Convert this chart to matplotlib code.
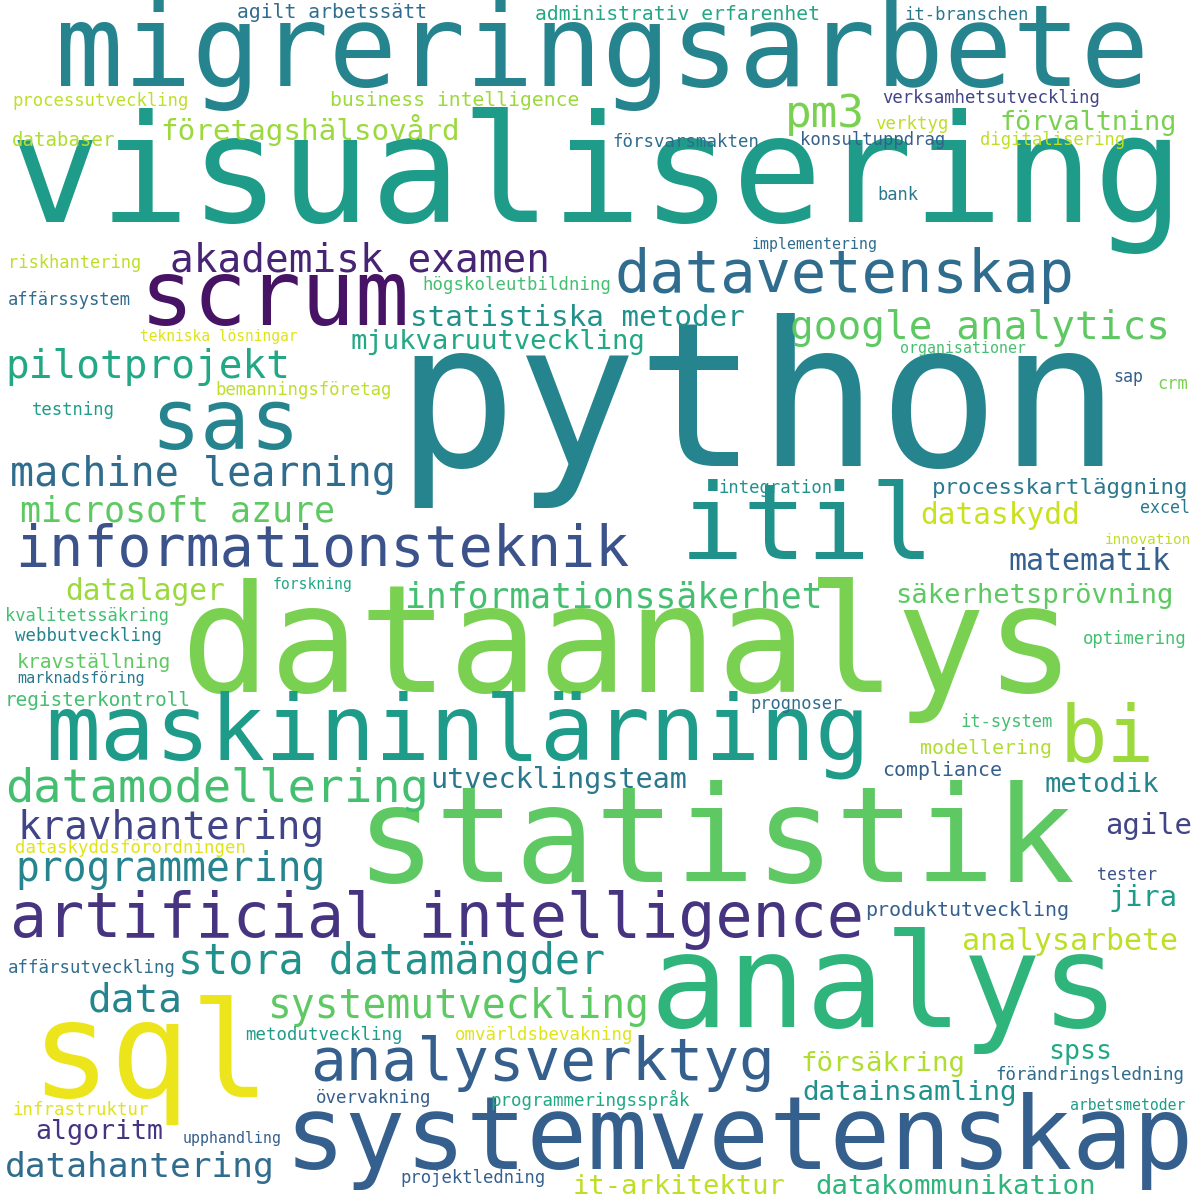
import matplotlib
matplotlib.use('Agg')
import matplotlib.pyplot as plt
from matplotlib import cm

# ord, vänsterkant x, mitt y, bredd (px), färg (viridis 0-1)
words = ["migreringsarbete", "visualisering", "python", "dataanalys", "statistik", "analys", "sql",
         "systemvetenskap", "maskininlärning", "itil", "scrum", "artificial intelligence",
         "informationsteknik", "datavetenskap", "sas", "bi", "analysverktyg", "datamodellering",
         "pilotprojekt", "machine learning", "microsoft azure", "akademisk examen", "google analytics",
         "statistiska metoder", "mjukvaruutveckling", "pm3", "företagshälsovård", "business intelligence",
         "administrativ erfarenhet", "agilt arbetssätt", "it-branschen", "processutveckling",
         "verksamhetsutveckling", "förvaltning", "databaser", "försvarsmakten", "verktyg",
         "konsultuppdrag", "digitalisering", "bank", "implementering", "riskhantering",
         "högskoleutbildning", "affärssystem", "tekniska lösningar", "organisationer",
         "bemanningsföretag", "testning", "sap", "crm", "processkartläggning", "integration",
         "dataskydd", "excel", "innovation", "matematik", "datalager", "forskning",
         "informationssäkerhet", "säkerhetsprövning", "kvalitetssäkring", "webbutveckling",
         "optimering", "kravställning", "marknadsföring", "registerkontroll", "prognoser",
         "it-system", "modellering", "compliance", "utvecklingsteam", "metodik", "kravhantering",
         "agile", "dataskyddsförordningen", "programmering", "tester", "jira", "produktutveckling",
         "stora datamängder", "analysarbete", "affärsutveckling", "data", "systemutveckling",
         "metodutveckling", "omvärldsbevakning", "försäkring", "spss", "datainsamling",
         "förändringsledning", "infrastruktur", "övervakning", "programmeringsspråk",
         "arbetsmetoder", "algoritm", "upphandling", "datahantering", "projektledning",
         "it-arkitektur", "datakommunikation"]
x_left = [55, 10, 395, 180, 355, 650, 30, 285, 45, 680, 140, 10, 15, 615, 150, 1060, 310, 5,
          5, 10, 20, 170, 790, 410, 350, 785, 160, 330, 535, 237, 905, 12, 882, 1000, 12, 612,
          875, 800, 980, 877, 752, 8, 422, 8, 140, 900, 215, 32, 1113, 1157, 932, 718, 920, 1140,
          1105, 1008, 65, 273, 405, 895, 5, 15, 1083, 17, 17, 5, 750, 960, 920, 882, 430, 1045,
          18, 1105, 15, 15, 1097, 1108, 865, 178, 962, 8, 88, 268, 245, 455, 800, 1048, 802, 995,
          12, 316, 490, 1070, 35, 183, 5, 400, 573, 815]
y_mid = [55, 180, 410, 650, 845, 990, 1060, 1140, 735, 530, 300, 920, 550, 275, 425, 740, 1063,
         790, 367, 475, 512, 260, 328, 318, 342, 115, 130, 100, 14, 12, 15, 101, 98, 123, 140,
         142, 124, 140, 140, 195, 244, 263, 285, 300, 337, 348, 390, 410, 377, 384, 488, 488,
         516, 508, 540, 562, 592, 585, 598, 596, 616, 636, 639, 662, 678, 700, 704, 722, 748,
         770, 780, 785, 828, 826, 848, 870, 875, 898, 910, 962, 942, 968, 1000, 1007, 1035, 1035,
         1064, 1052, 1093, 1075, 1110, 1098, 1100, 1105, 1132, 1138, 1168, 1178, 1187, 1187]
widths = [1095, 1175, 725, 895, 720, 470, 240, 910, 825, 255, 270, 855, 615, 460, 150, 95, 465,
          425, 285, 385, 315, 380, 380, 335, 295, 80, 300, 250, 285, 190, 125, 176, 218, 178,
          103, 146, 73, 145, 145, 41, 125, 134, 188, 124, 158, 125, 177, 83, 30, 31, 256, 114,
          160, 50, 87, 162, 160, 80, 417, 278, 165, 147, 104, 155, 128, 187, 93, 93, 132, 120,
          258, 115, 307, 87, 230, 310, 60, 69, 205, 427, 216, 167, 95, 382, 157, 178, 165, 64,
          215, 190, 136, 116, 200, 115, 128, 99, 270, 145, 212, 280]
colors = [0.45, 0.55, 0.45, 0.8, 0.75, 0.65, 0.97, 0.3, 0.55, 0.5, 0.05, 0.15, 0.25, 0.35, 0.45,
          0.85, 0.3, 0.7, 0.6, 0.35, 0.75, 0.1, 0.75, 0.5, 0.6, 0.8, 0.85, 0.85, 0.6, 0.35, 0.4,
          0.9, 0.2, 0.8, 0.88, 0.35, 0.9, 0.3, 0.9, 0.4, 0.35, 0.9, 0.7, 0.35, 0.95, 0.7, 0.9,
          0.55, 0.3, 0.8, 0.4, 0.5, 0.92, 0.4, 0.9, 0.3, 0.85, 0.6, 0.7, 0.75, 0.7, 0.45, 0.7,
          0.75, 0.4, 0.7, 0.35, 0.7, 0.88, 0.3, 0.4, 0.45, 0.2, 0.2, 0.95, 0.45, 0.25, 0.55, 0.3,
          0.5, 0.9, 0.35, 0.45, 0.75, 0.55, 0.95, 0.88, 0.6, 0.5, 0.35, 0.95, 0.3, 0.6, 0.55,
          0.15, 0.3, 0.35, 0.3, 0.9, 0.65]

ADVANCE = 0.602  # DejaVu Sans Mono teckenbredd per em
DPI = 100

fig = plt.figure(figsize=(12, 12), dpi=DPI)
ax = fig.add_axes([0, 0, 1, 1])
ax.set_xlim(0, 1200)
ax.set_ylim(1200, 0)
ax.axis('off')

for w, x, y, wd, c in zip(words, x_left, y_mid, widths, colors):
    em_px = wd / (len(w) * ADVANCE)
    ax.text(x, y, w, fontsize=em_px * 72 / DPI, family='DejaVu Sans Mono',
            color=cm.viridis(c), ha='left', va='center')

fig.savefig('out.png', dpi=DPI, facecolor='white')
